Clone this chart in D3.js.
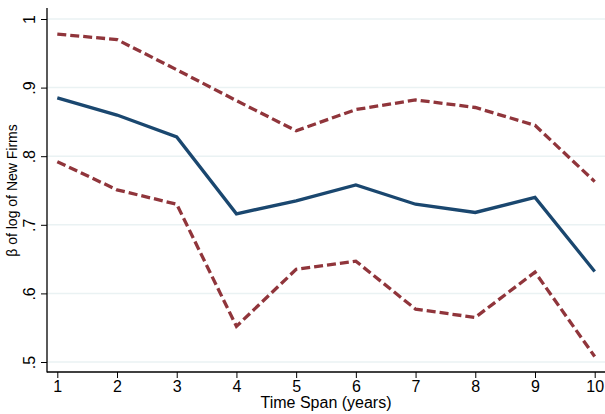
<!DOCTYPE html>
<html>
<head>
<meta charset="utf-8">
<script src="https://cdn.jsdelivr.net/npm/d3@7"></script>
<style>
  body { margin: 0; background: #fff; }
  text { font-family: "Liberation Sans", Arial, Helvetica, sans-serif; fill: #000; }
</style>
</head>
<body>
<svg id="chart"></svg>
<script>
const years = [1, 2, 3, 4, 5, 6, 7, 8, 9, 10];
const beta = [0.885, 0.860, 0.828, 0.716, 0.735, 0.758, 0.730, 0.718, 0.740, 0.632];
const upper = [0.978, 0.970, 0.926, 0.881, 0.837, 0.868, 0.882, 0.871, 0.845, 0.763];
const lower = [0.792, 0.751, 0.730, 0.552, 0.635, 0.647, 0.577, 0.565, 0.631, 0.508];
const yTicks = [0.5, 0.6, 0.7, 0.8, 0.9, 1];
const yTickLabels = ['.5', '.6', '.7', '.8', '.9', '1'];

const svgWidth = 605, svgHeight = 414;
const axisLeftX = 47, axisBottomY = 372, axisTopY = 8;

const svg = d3.select('#chart')
  .attr('width', svgWidth)
  .attr('height', svgHeight);

const x = d3.scaleLinear().domain([1, 10]).range([57.3, 594.7]);
const y = d3.scaleLinear().domain([0.5, 1]).range([362, 19]);

// grid
svg.append('g')
  .selectAll('line')
  .data(yTicks)
  .enter()
  .append('line')
    .attr('x1', axisLeftX)
    .attr('x2', svgWidth)
    .attr('y1', d => y(d))
    .attr('y2', d => y(d))
    .attr('stroke', '#eaf2f3')
    .attr('stroke-width', 1.5);

// y axis
const yAxis = d3.axisLeft(y)
  .tickValues(yTicks)
  .tickFormat((d, i) => yTickLabels[i])
  .tickSize(6)
  .tickSizeOuter(0)
  .tickPadding(0);

const gy = svg.append('g')
  .attr('transform', `translate(${axisLeftX},0)`)
  .call(yAxis);
gy.select('.domain').remove();
gy.selectAll('.tick line').attr('stroke', '#000').attr('stroke-width', 1);
gy.selectAll('.tick text')
  .attr('x', 0)
  .attr('dy', 0)
  .attr('text-anchor', 'middle')
  .attr('transform', 'translate(-12,0) rotate(-90)')
  .style('font-size', '16px');

// x axis
const xAxis = d3.axisBottom(x)
  .tickValues(years)
  .tickFormat(d3.format('d'))
  .tickSize(6)
  .tickSizeOuter(0)
  .tickPadding(3);

const gx = svg.append('g')
  .attr('transform', `translate(0,${axisBottomY})`)
  .call(xAxis);
gx.select('.domain').remove();
gx.selectAll('.tick line').attr('stroke', '#000').attr('stroke-width', 1);
gx.selectAll('.tick text').style('font-size', '16px');

// axis lines
svg.append('line')
  .attr('x1', axisLeftX).attr('x2', axisLeftX)
  .attr('y1', axisTopY).attr('y2', axisBottomY + 0.5)
  .attr('stroke', '#000').attr('stroke-width', 1.3);
svg.append('line')
  .attr('x1', axisLeftX).attr('x2', svgWidth)
  .attr('y1', axisBottomY).attr('y2', axisBottomY)
  .attr('stroke', '#000').attr('stroke-width', 1.3);

// titles
svg.append('text')
  .attr('x', (axisLeftX + svgWidth) / 2)
  .attr('y', 408)
  .attr('text-anchor', 'middle')
  .style('font-size', '16px')
  .text('Time Span (years)');

svg.append('text')
  .attr('transform', `translate(17,${(y(0.5) + y(1)) / 2}) rotate(-90)`)
  .attr('text-anchor', 'middle')
  .style('font-size', '14px')
  .text('β of log of New Firms');

// lines
const line = d3.line()
  .x((d, i) => x(years[i]))
  .y(d => y(d));

svg.append('path')
  .datum(upper)
  .attr('d', line)
  .attr('fill', 'none')
  .attr('stroke', '#90353b')
  .attr('stroke-width', 3.3)
  .attr('stroke-dasharray', '9,4');

svg.append('path')
  .datum(lower)
  .attr('d', line)
  .attr('fill', 'none')
  .attr('stroke', '#90353b')
  .attr('stroke-width', 3.3)
  .attr('stroke-dasharray', '9,4');

svg.append('path')
  .datum(beta)
  .attr('d', line)
  .attr('fill', 'none')
  .attr('stroke', '#1a476f')
  .attr('stroke-width', 3.3);
</script>
</body>
</html>
